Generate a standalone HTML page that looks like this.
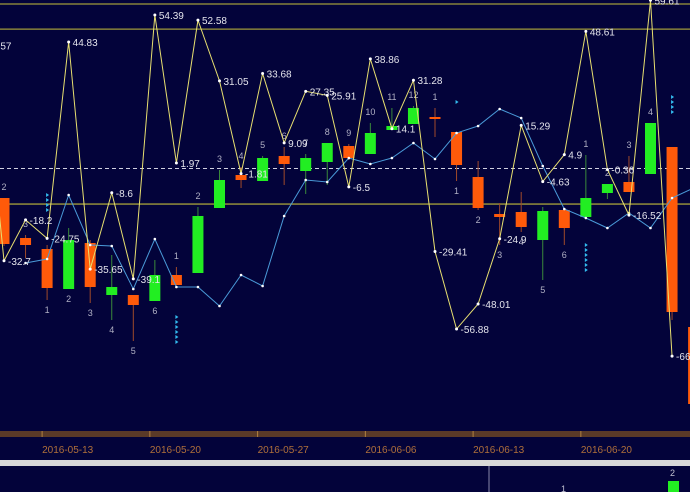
<!DOCTYPE html>
<html><head><meta charset="utf-8">
<style>
html,body{margin:0;padding:0;background:#03033a;width:690px;height:492px;overflow:hidden}
svg{display:block;font-family:"Liberation Sans",sans-serif}
</style></head>
<body>
<svg id="chart" width="690" height="492" viewBox="0 0 690 492" xmlns="http://www.w3.org/2000/svg">
<rect x="0" y="0" width="690" height="492" fill="#03033a"/>
<g id="guides"></g>
<g id="candles"></g>
<g id="blue"></g>
<g id="yellow"></g>
<g id="marks"></g>
<rect x="0" y="431" width="690" height="6" fill="#5a3a28"/>
<g id="xaxis"></g>
<rect x="0" y="460" width="690" height="6" fill="#d8d8d8"/>
<rect x="0" y="466" width="690" height="26" fill="#03033a"/>
<line x1="489" y1="466" x2="489" y2="492" stroke="#8888aa" stroke-width="1"/>
<rect x="668" y="481" width="11" height="11" fill="#22ee22"/>
<text x="670" y="476" fill="#c0c0d0" font-size="9">2</text>
<text x="561" y="492" fill="#c0c0d0" font-size="9">1</text>
</svg>
<script>
// ---- data ----
const candleOpen  = [242,202,191,151,197,145,145,139,165,167,232,265,259,284,269,278,294,286,310,316,323,308,263,226,228,200,230,223,247,258,266,293,113];
const candleClose = [196,195,152,200,153,153,135,165,155,224,260,260,282,276,282,297,282,307,314,332,322,275,232,223,213,229,212,242,256,248,317,128,36];
const candleHigh  = [242,205,195,212,200,185,145,180,173,233,270,273,284,293,286,297,296,317,332,334,332,308,279,237,248,233,230,285,256,284,317,293,113];
const candleLow   = [194,182,140,151,137,120,99,139,155,167,232,252,259,255,246,255,280,286,310,316,303,259,230,195,208,160,195,222,241,248,266,120,30];
const countLabels = ["2","3","1","2","3","4","5","6","1","2","3","4","5","6","7","8","9","10","11","12","1","1","2","3","4","5","6","1","2","3","4","",""];
const countSide   = ["a","a","b","b","b","b","b","b","a","a","a","a","a","a","a","a","a","a","a","a","a","b","b","b","b","b","b","a","a","a","a","",""];
const oscIndex  = [-1,0,1,2,3,4,5,6,7,8,9,10,11,12,13,14,15,16,17,18,19,20,21,22,23,24,25,26,27,28,29,30,31];
const oscValues = [43.57,-32.7,-18.2,-24.75,44.83,-35.65,-8.6,-39.1,54.39,1.97,52.58,31.05,-1.81,33.68,9.09,27.35,25.91,-6.5,38.86,14.1,31.28,-29.41,-56.88,-48.01,-24.9,15.29,-4.63,4.9,48.61,-0.36,-16.52,59.61,-66.5];
const maIndex  = [1,2,3,4,5,6,7,8,9,10,11,12,13,14,15,16,17,18,19,20,21,22,23,24,25,26,27,28,29,30,31,32];
const maValues = [177,181,245,195,194,151,201,153,153,134,165,154,224,260,258,282,276,282,297,281,307,314,331,322,274,231,222,212,227,212,242,252];
const levelValues = [58.3,49.4,-12.6];
const dateLabels = ["2016-05-13","2016-05-20","2016-05-27","2016-06-06","2016-06-13","2016-06-20"];
const dateIndex  = [2,7,12,17,22,27];
const markerIndex = [2,8,21,27,31];
const markerCount = [4,6,1,6,4];

// ---- scales ----
const NS="http://www.w3.org/2000/svg";
function xS(i){return 4+i*21.55;}
function yP(p){return 440-p;}
function yO(v){return 168.5-v*2.822;}
function mk(tag,attrs,parent){const e=document.createElementNS(NS,tag);for(const k in attrs)e.setAttribute(k,attrs[k]);parent.appendChild(e);return e;}
const G=id=>document.getElementById(id);

// guides
levelValues.forEach((v,k)=>{
  const l=mk('line',{x1:0,x2:690,y1:yO(v),y2:yO(v),stroke:'#a09a3a','stroke-width':1.3},G('guides'));
  
  
});
const z=mk('line',{x1:0,x2:690,y1:yO(0),y2:yO(0),stroke:'#d0d0e0','stroke-width':1,'stroke-dasharray':'4,3'},G('guides'));



// candles
candleOpen.forEach((o,i)=>{
  const c=candleClose[i],up=c>=o,col=up?'#22ee22':'#ff5a0a',x=xS(i);
  const g=mk('g',{},G('candles'));
  
  
  mk('line',{x1:x,x2:x,y1:yP(candleHigh[i]),y2:yP(candleLow[i]),stroke:up?'#3a8a3a':'#a04a2a','stroke-width':1},g);
  const top=yP(Math.max(o,c)),h=Math.max(2,Math.abs(o-c));
  mk('rect',{x:x-5.5,y:top,width:11,height:h,fill:col},g);
  if(countLabels[i]){
    const ty=countSide[i]==='a'?yP(candleHigh[i])-8:yP(candleLow[i])+13;
    const t=mk('text',{x:x,y:ty,fill:'#b0b0c4','font-size':9,'text-anchor':'middle'},G('candles'));
    
    
    t.textContent=countLabels[i];
  }
});

// blue MA
const bp=maIndex.map((i,k)=>xS(i)+','+yP(maValues[k])).join(' ');
const bl=mk('polyline',{points:bp,fill:'none',stroke:'#4a9ad8','stroke-width':1},G('blue'));


maIndex.forEach((i,k)=>{
  const d=mk('circle',{cx:xS(i),cy:yP(maValues[k]),r:1.3,fill:'#ffffff'},G('blue'));
  
  
});

// yellow oscillator
const yp=oscIndex.map((i,k)=>xS(i)+','+yO(oscValues[k])).join(' ');
const yl=mk('polyline',{points:yp,fill:'none',stroke:'#e8e070','stroke-width':1},G('yellow'));


oscIndex.forEach((i,k)=>{
  const d=mk('circle',{cx:xS(i),cy:yO(oscValues[k]),r:1.5,fill:'#ffffff'},G('yellow'));
  
  
  const t=mk('text',{x:xS(i)+4,y:yO(oscValues[k])+4,fill:'#e4e4ec','font-size':10},G('yellow'));
  
  
  t.textContent=String(oscValues[k]);
});

// markers
markerIndex.forEach((i,k)=>{
  for(let j=0;j<markerCount[k];j++){
    const x=xS(i),y=(k===0?195:k===1?317:k===2?102:k===3?245:97)+j*5;
    const p=mk('polygon',{points:`${x-1},${y-2} ${x+2},${y} ${x-1},${y+2}`,fill:'#33bbee'},G('marks'));
    
    
  }
});

// x axis
dateLabels.forEach((d,k)=>{
  const x=xS(dateIndex[k])-5;
  const tk=mk('line',{x1:x,x2:x,y1:431,y2:437,stroke:'#b08040','stroke-width':1},G('xaxis'));
  
  
  const t=mk('text',{x:x,y:453,fill:'#b0703a','font-size':10},G('xaxis'));
  
  
  t.textContent=d;
});
</script>
</body></html>
